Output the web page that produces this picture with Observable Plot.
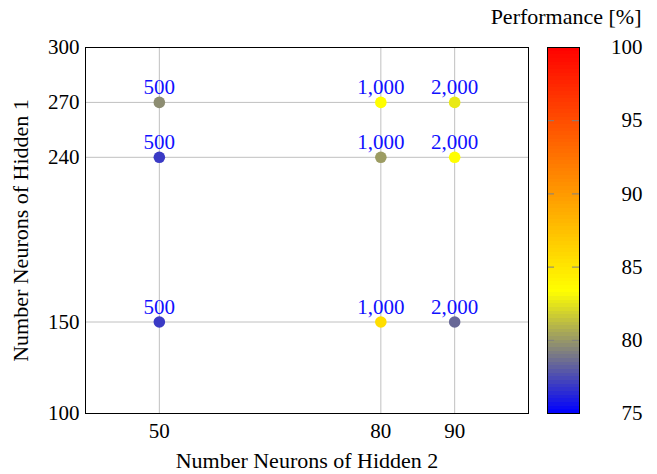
<!DOCTYPE html>
<html>
<head>
<meta charset="utf-8">
<script src="https://cdn.jsdelivr.net/npm/d3@7"></script>
<script src="https://cdn.jsdelivr.net/npm/@observablehq/plot@0.6"></script>
<style>
  html, body { margin: 0; padding: 0; background: #fff; }
  #wrap { position: relative; width: 657px; height: 474px; }
  #cb { position: absolute; left: 540px; top: 0; }
</style>
</head>
<body>
<div id="wrap"><div id="main"></div><div id="cb"></div></div>
<script>
const hidden2 = [50, 80, 90, 50, 80, 90, 50, 80, 90];
const hidden1 = [270, 270, 270, 240, 240, 240, 150, 150, 150];
const performance = [79.6, 83.4, 82.6, 76.9, 80.1, 83.4, 76.9, 85.5, 78.4];
const labels = ["500", "1,000", "2,000", "500", "1,000", "2,000", "500", "1,000", "2,000"];
const xTicks = [50, 80, 90];
const yTicks = [100, 150, 240, 270, 300];
const colorTicks = [75, 80, 85, 90, 95, 100];
const colorStops = [75, 250 / 3, 275 / 3, 100];
const colorRange = ["#0000ff", "#ffff00", "#ff8000", "#ff0000"];

const data = hidden2.map((x, i) => ({x, y: hidden1[i], p: performance[i], label: labels[i]}));
const font = "'Liberation Serif', 'Times New Roman', serif";
const colorOpts = {type: "linear", domain: colorStops, range: colorRange, interpolate: "rgb"};

const main = Plot.plot({
  width: 657, height: 474,
  marginLeft: 85, marginRight: 129, marginTop: 47, marginBottom: 61,
  style: {fontFamily: font, fontSize: "21px", color: "#000", background: "#fff"},
  x: {domain: [40, 100]},
  y: {domain: [100, 300]},
  color: colorOpts,
  marks: [
    Plot.ruleX(xTicks, {stroke: "#c0c0c0", strokeWidth: 1}),
    Plot.ruleY(yTicks, {stroke: "#c0c0c0", strokeWidth: 1}),
    Plot.frame({stroke: "#000", strokeWidth: 1}),
    Plot.axisX(xTicks, {tickSize: 0, tickPadding: 10, fontSize: 21, label: null}),
    Plot.text(["Number Neurons of Hidden 2"], {frameAnchor: "bottom", dy: 47, fontSize: 22, lineAnchor: "middle"}),
    Plot.axisY(yTicks, {tickSize: 0, tickPadding: 6, fontSize: 21, label: null}),
    Plot.text(["Number Neurons of Hidden 1"], {frameAnchor: "left", dx: -65, rotate: -90, fontSize: 22, lineAnchor: "middle", textAnchor: "middle"}),
    Plot.dot(data, {x: "x", y: "y", fill: "p", r: 5.8, stroke: null}),
    Plot.text(data, {x: "x", y: "y", text: "label", fill: "#1010ff", dy: -15, fontSize: 21, lineAnchor: "middle"}),
    Plot.text(["Performance [%]"], {frameAnchor: "top-right", dx: 113, dy: -31, fontSize: 22, lineAnchor: "middle"})
  ]
});
document.getElementById("main").appendChild(main);

const step = 0.25;
const strips = d3.range(75, 100, step);
const cb = Plot.plot({
  width: 117, height: 474,
  marginLeft: 7, marginRight: 78, marginTop: 47, marginBottom: 61,
  style: {fontFamily: font, fontSize: "21px", color: "#000", background: "transparent", overflow: "visible"},
  x: {domain: [0, 1], axis: null},
  y: {domain: [75, 100]},
  color: colorOpts,
  marks: [
    Plot.rect(strips, {x1: 0, x2: 1, y1: d => d, y2: d => Math.min(100, d + step * 1.3), fill: d => d + step / 2, inset: 0, shapeRendering: "crispEdges"}),
    Plot.ruleY([80, 85, 90, 95], {x1: 0, x2: 0.22, stroke: "#808080"}),
    Plot.ruleY([80, 85, 90, 95], {x1: 0.78, x2: 1, stroke: "#808080"}),
    Plot.frame({stroke: "#000", strokeWidth: 1}),
    Plot.axisY(colorTicks, {anchor: "right", tickSize: 0, tickPadding: 0, textAnchor: "end", dx: 63, fontSize: 21, label: null})
  ]
});
document.getElementById("cb").appendChild(cb);
</script>
</body>
</html>
